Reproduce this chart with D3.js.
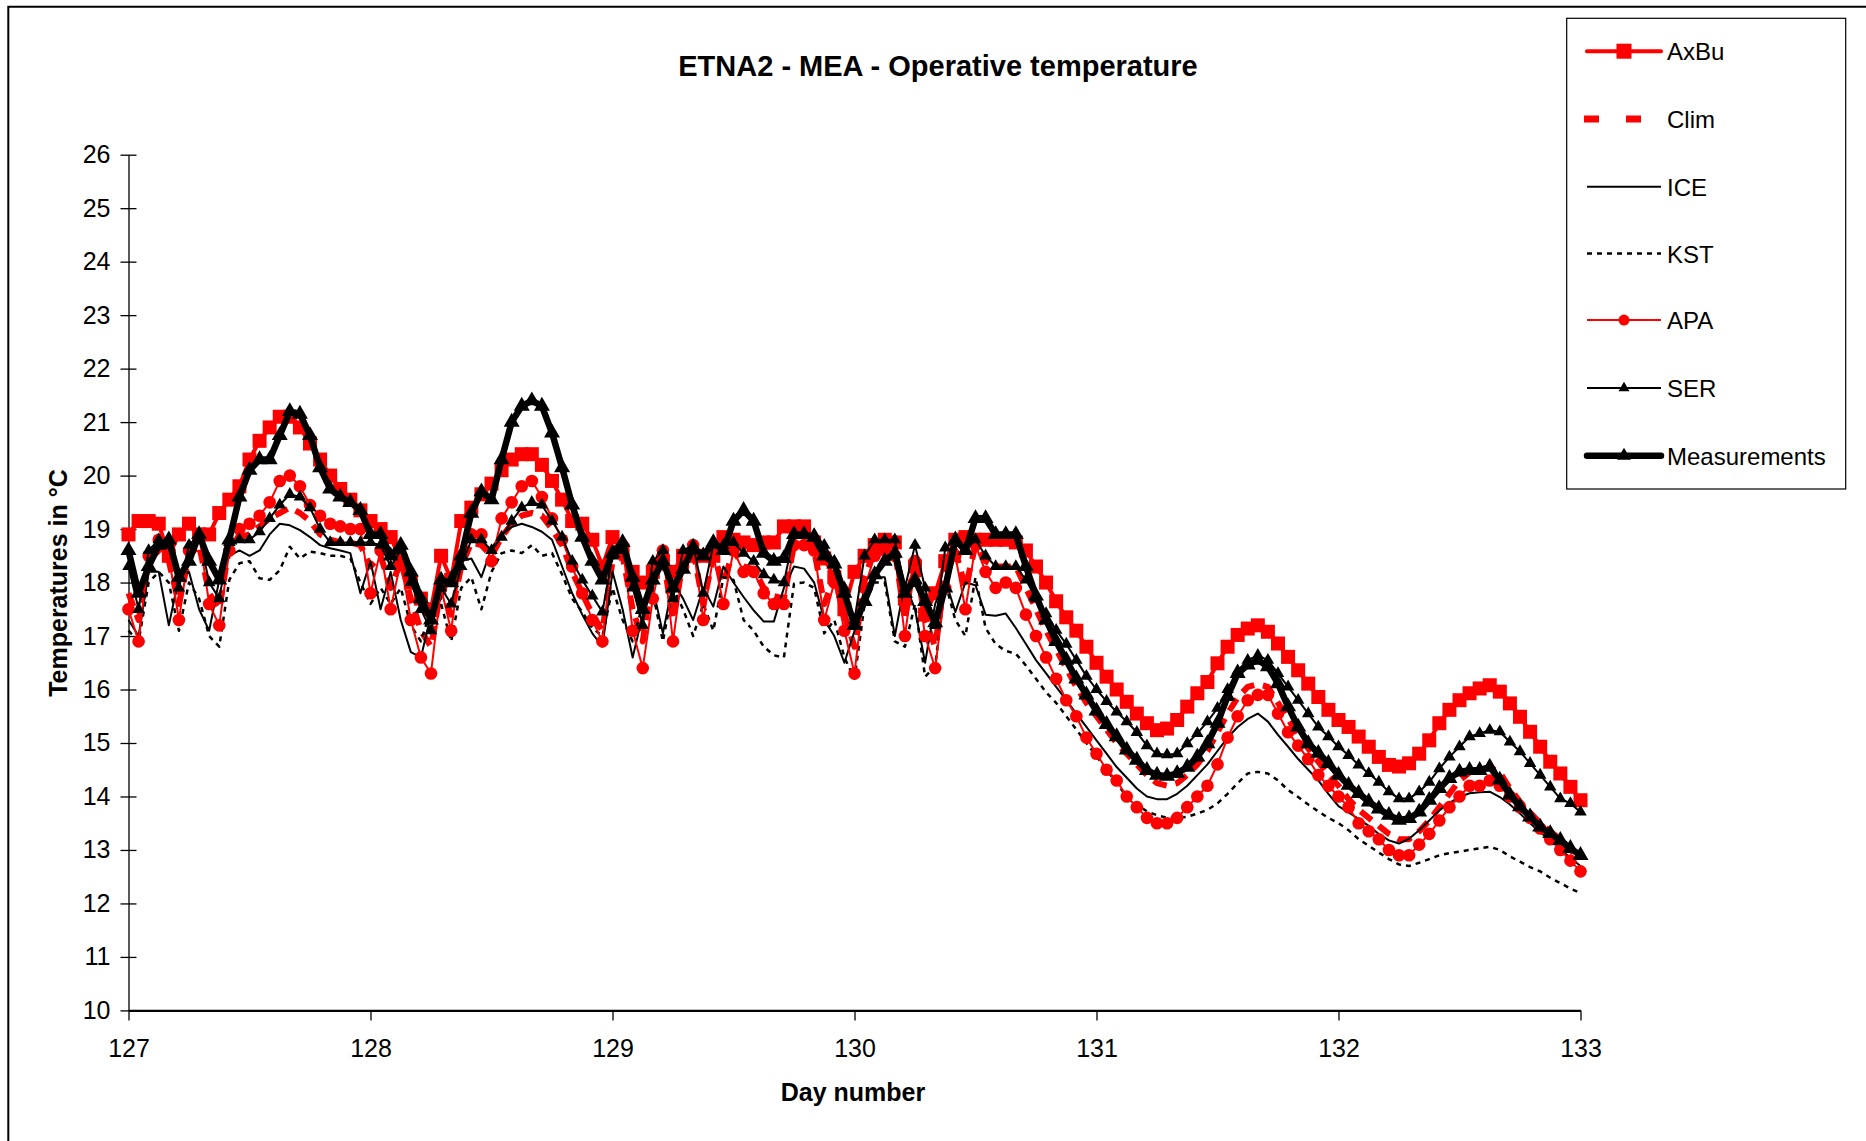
<!DOCTYPE html>
<html>
<head>
<meta charset="utf-8">
<script src="https://cdn.jsdelivr.net/npm/d3@7"></script>
<style>
  html, body { margin: 0; padding: 0; background: #fff; }
  svg { display: block; }
  text { font-family: "Liberation Sans", Arial, sans-serif; fill: #000; }
</style>
</head>
<body>
<svg id="chart" width="1866" height="1141"></svg>
<script>
// ---- data (hourly values, day 127.0 to 133.0) ----
const startDay = 127;
const stepsPerDay = 24;
const xTickValues = [127, 128, 129, 130, 131, 132, 133];
const yTickValues = [10, 11, 12, 13, 14, 15, 16, 17, 18, 19, 20, 21, 22, 23, 24, 25, 26];

const axbu = [
  18.9, 19.15, 19.15, 19.1, 18.5, 18.9, 19.1, 18.9, 18.9, 19.3, 19.55, 19.8, 20.3, 20.65, 20.9, 21.1, 21.1, 20.9, 20.6, 20.3, 20.0, 19.75, 19.55, 19.35, 19.15,
  19.0, 18.85, 18.4, 18.0, 17.7, 17.5, 18.5, 18.05, 19.15, 19.4, 19.65, 19.85, 20.1, 20.3, 20.4, 20.4, 20.2, 19.9, 19.55, 19.15, 19.1, 18.8, 18.3, 18.85,
  18.6, 18.2, 18.0, 18.2, 18.4, 18.2, 18.5, 18.5, 18.5, 18.5, 18.85, 18.8, 18.75, 18.7, 18.75, 18.75, 19.05, 19.05, 19.05, 18.75, 18.45, 18.1, 17.5, 18.2,
  18.5, 18.7, 18.8, 18.75, 17.7, 18.3, 17.4, 17.8, 18.4, 18.8, 18.85, 18.8, 18.8, 18.8, 18.8, 18.75, 18.6, 18.3, 18.0, 17.65, 17.35, 17.1, 16.8, 16.5,
  16.24, 16.0, 15.77, 15.55, 15.37, 15.24, 15.27, 15.43, 15.68, 15.93, 16.14, 16.49, 16.8, 17.02, 17.14, 17.2, 17.08, 16.86, 16.61, 16.36, 16.11, 15.86, 15.62, 15.43,
  15.3, 15.12, 14.93, 14.74, 14.59, 14.56, 14.62, 14.8, 15.05, 15.37, 15.62, 15.8, 15.93, 16.02, 16.08, 15.96, 15.74, 15.49, 15.21, 14.93, 14.65, 14.43, 14.18, 13.93
];

const clim = [
  17.8, 17.3, 18.4, 18.6, 18.4, 17.6, 18.5, 18.7, 17.8, 17.5, 18.7, 18.85, 18.9, 19.05, 19.2, 19.3, 19.4, 19.3, 19.15, 18.9, 18.8, 18.75, 18.75, 18.7, 18.3,
  18.5, 17.9, 18.4, 17.7, 17.1, 16.8, 17.9, 17.4, 18.3, 18.75, 18.7, 18.5, 18.85, 19.1, 19.25, 19.3, 19.25, 19.0, 18.7, 18.2, 17.8, 17.4, 17.1, 18.4,
  18.5, 17.5, 16.9, 18.2, 18.5, 17.3, 18.4, 18.6, 17.6, 18.5, 18.0, 18.6, 18.3, 18.25, 17.9, 17.75, 17.7, 18.7, 18.7, 18.6, 17.6, 18.1, 17.4, 16.8,
  18.1, 18.6, 18.7, 18.6, 17.3, 18.5, 17.3, 16.8, 18.2, 18.6, 17.9, 18.7, 18.4, 18.3, 18.3, 18.3, 17.9, 17.5, 17.1, 16.75, 16.4, 16.05, 15.75, 15.5,
  15.25, 15.0, 14.8, 14.6, 14.4, 14.25, 14.2, 14.25, 14.4, 14.6, 14.85, 15.2, 15.55, 15.85, 16.05, 16.1, 16.05, 15.75, 15.45, 15.15, 14.9, 14.65, 14.4, 14.2,
  13.95, 13.75, 13.6, 13.45, 13.3, 13.2, 13.2, 13.35, 13.55, 13.8, 14.05, 14.3, 14.45, 14.5, 14.55, 14.45, 14.15, 13.9, 13.7, 13.5, 13.35, 13.2, 13.0, 12.85
];

const ice = [
  17.3, 17.0, 18.2, 18.2, 17.2, 18.1, 18.2, 17.5, 17.1, 18.05, 18.5, 18.6, 18.5, 18.6, 18.9, 19.1, 19.07, 18.98, 18.85, 18.7, 18.64, 18.6, 18.55, 17.8, 18.4,
  17.5, 18.2, 17.3, 16.7, 16.6, 17.4, 17.7, 18.2, 18.4, 18.45, 18.1, 18.65, 18.9, 19.04, 19.1, 19.04, 18.95, 18.8, 18.3, 17.8, 17.4, 17.05, 16.8, 18.2,
  17.5, 16.6, 17.4, 17.9, 17.05, 18.0, 17.7, 17.3, 17.9, 17.55, 18.3, 18.0, 17.73, 17.48, 17.27, 17.27, 17.9, 18.3, 18.26, 18.0, 17.3, 17.0, 16.5, 17.1,
  17.9, 18.1, 18.1, 17.0, 18.0, 17.5, 16.5, 17.6, 18.05, 17.45, 18.0, 17.95, 17.4, 17.38, 17.42, 17.15, 16.85, 16.55, 16.3, 16.05, 15.8, 15.55, 15.3, 15.05,
  14.8, 14.55, 14.35, 14.15, 14.0, 13.95, 13.95, 14.05, 14.2, 14.4, 14.6, 14.85, 15.1, 15.3, 15.45, 15.55, 15.4, 15.15, 14.93, 14.7, 14.5, 14.3, 14.05, 13.82,
  13.7, 13.58, 13.45, 13.3, 13.18, 13.12, 13.21, 13.37, 13.55, 13.74, 13.88, 13.99, 14.06, 14.08, 14.09, 13.99, 13.85, 13.68, 13.5, 13.33, 13.18, 13.02, 12.85, 12.7
];

const kst = [
  17.1, 16.9, 18.0, 18.2, 18.0, 17.1, 18.0, 17.7, 17.0, 16.8, 18.05, 18.36, 18.4, 18.08, 18.05, 18.23, 18.67, 18.45, 18.58, 18.55, 18.5, 18.5, 18.45, 18.0, 17.6,
  17.9, 17.6, 17.9, 17.2, 16.9, 17.5, 17.6, 16.9, 17.9, 18.1, 17.5, 18.2, 18.55, 18.6, 18.55, 18.7, 18.5, 18.55, 18.15, 17.7, 17.45, 17.15, 17.0, 17.9,
  17.3, 16.9, 17.6, 17.8, 16.9, 17.9, 17.5, 17.0, 17.6, 17.1, 18.1, 18.05, 17.3, 17.1, 16.8, 16.64, 16.6, 17.98, 18.0, 17.9, 17.05, 17.3, 16.6, 16.2,
  17.6, 18.0, 18.0, 16.9, 16.8, 17.6, 16.24, 16.43, 18.0, 17.3, 17.0, 18.1, 17.15, 16.85, 16.72, 16.67, 16.45, 16.2, 15.95, 15.75, 15.5, 15.25, 15.0, 14.75,
  14.5, 14.25, 14.0, 13.85, 13.72, 13.65, 13.6, 13.6, 13.62, 13.68, 13.75, 13.87, 14.05, 14.25, 14.43, 14.46, 14.43, 14.3, 14.12, 13.99, 13.85, 13.72, 13.6, 13.5,
  13.37, 13.2, 13.08, 12.95, 12.83, 12.73, 12.7, 12.76, 12.83, 12.9, 12.94, 12.97, 13.0, 13.03, 13.06, 13.0, 12.88, 12.78, 12.68, 12.6, 12.48, 12.38, 12.28, 12.19
];

const apa = [
  17.5, 16.9, 18.5, 18.8, 18.5, 17.3, 18.6, 18.9, 17.6, 17.2, 18.6, 19.0, 19.1, 19.25, 19.5, 19.9, 20.0, 19.8, 19.45, 19.25, 19.1, 19.05, 19.0, 19.0, 17.8,
  18.6, 17.5, 18.4, 17.3, 16.6, 16.3, 17.9, 17.1, 18.5, 18.9, 18.9, 18.4, 19.2, 19.5, 19.8, 19.9, 19.6, 19.2, 18.8, 18.3, 17.8, 17.3, 16.9, 18.6,
  18.7, 17.1, 16.4, 17.7, 18.6, 16.9, 18.3, 18.7, 17.3, 18.5, 17.6, 18.6, 18.2, 18.2, 17.8, 17.6, 17.6, 18.7, 18.7, 18.6, 17.3, 18.0, 17.1, 16.3,
  17.9, 18.5, 18.6, 18.5, 17.0, 18.4, 17.0, 16.4, 17.9, 18.5, 17.5, 18.7, 18.2, 17.9, 18.0, 17.9, 17.4, 17.0, 16.6, 16.2, 15.8, 15.5, 15.1, 14.8,
  14.5, 14.3, 14.0, 13.8, 13.6, 13.5, 13.5, 13.6, 13.8, 14.0, 14.2, 14.6, 15.1, 15.5, 15.8, 15.9, 15.9, 15.55, 15.2, 14.95, 14.7, 14.4, 14.2, 14.0,
  13.8, 13.5, 13.35, 13.2, 13.0, 12.9, 12.9, 13.1, 13.3, 13.55, 13.8, 14.0, 14.2, 14.2, 14.3, 14.2, 14.0, 13.8, 13.6, 13.4, 13.2, 13.0, 12.8, 12.6
];

const ser = [
  18.3, 17.5, 18.6, 18.8, 18.7, 17.9, 18.7, 18.9, 18.0, 17.7, 18.75, 18.8, 18.8, 18.95, 19.2, 19.45, 19.65, 19.6, 19.4, 19.0, 18.75, 18.75, 18.75, 18.75, 18.75,
  18.7, 18.3, 18.6, 18.0, 17.5, 17.1, 17.9, 17.6, 18.3, 18.8, 18.8, 18.6, 18.85, 19.15, 19.4, 19.5, 19.45, 19.15, 18.85, 18.4, 18.05, 17.75, 17.45, 18.5,
  18.6, 17.9, 17.2, 18.4, 18.6, 17.7, 18.6, 18.7, 17.8, 18.7, 18.7, 18.75, 18.55, 18.4, 18.15, 18.05, 18.0, 18.9, 18.9, 18.9, 18.7, 18.4, 17.9, 17.3,
  18.5, 18.8, 18.8, 18.8, 17.9, 18.7, 17.9, 17.2, 18.65, 18.8, 18.6, 18.8, 18.5, 18.3, 18.3, 18.3, 18.05, 17.7, 17.42, 17.11, 16.85, 16.55, 16.25, 16.0,
  15.78, 15.58, 15.4, 15.2, 14.95, 14.8, 14.78, 14.8, 14.99, 15.18, 15.4, 15.65, 16.0, 16.35, 16.55, 16.64, 16.55, 16.3, 16.05, 15.8, 15.55, 15.3, 15.12, 14.93,
  14.77, 14.59, 14.43, 14.27, 14.09, 13.96, 13.96, 14.09, 14.27, 14.52, 14.74, 14.93, 15.12, 15.18, 15.24, 15.21, 15.02, 14.84, 14.62, 14.4, 14.18, 13.96, 13.87, 13.71
];

const measurements = [
  18.6, 17.8, 18.3, 18.7, 18.8, 18.1, 18.4, 18.9, 18.4, 18.05, 18.8, 19.6, 20.1, 20.3, 20.3, 20.75, 21.2, 21.15, 20.75, 20.15, 19.75, 19.6, 19.5, 19.35, 18.9,
  18.9, 18.5, 18.7, 18.2, 17.7, 17.3, 18.05, 18.0, 18.5, 19.3, 19.7, 19.55, 20.3, 21.0, 21.3, 21.4, 21.3, 20.8, 20.15, 19.45, 18.85, 18.4, 18.05, 18.55,
  18.75, 18.1, 17.5, 18.05, 18.4, 17.9, 18.25, 18.65, 18.5, 18.75, 18.6, 19.15, 19.35, 19.15, 18.55, 18.4, 18.45, 18.9, 18.9, 18.85, 18.5, 18.35, 17.8, 17.2,
  17.65, 18.15, 18.4, 18.55, 17.8, 18.05, 17.65, 17.25, 17.9, 18.8, 18.6, 19.2, 19.2, 18.9, 18.9, 18.9, 18.3, 17.75, 17.3, 16.9, 16.55, 16.2, 15.9, 15.6,
  15.35, 15.12, 14.87, 14.68, 14.49, 14.4, 14.38, 14.43, 14.55, 14.74, 14.99, 15.37, 15.87, 16.3, 16.46, 16.55, 16.43, 16.11, 15.68, 15.3, 14.99, 14.81, 14.62, 14.4,
  14.21, 14.06, 13.9, 13.77, 13.65, 13.56, 13.59, 13.71, 13.93, 14.15, 14.34, 14.46, 14.49, 14.49, 14.55, 14.31, 14.03, 13.81, 13.62, 13.43, 13.31, 13.18, 13.03, 12.9
];

const seriesNames = ["AxBu", "Clim", "ICE", "KST", "APA", "SER", "Measurements"];

// ---- styles ----
const RED = "#ff0000", BLACK = "#000000";
const series = [
  { name: "AxBu", data: axbu, color: RED, width: 4, dash: null, marker: "square", msize: 14 },
  { name: "Clim", data: clim, color: RED, width: 6, dash: "14,9", marker: null },
  { name: "ICE", data: ice, color: BLACK, width: 2, dash: null, marker: null },
  { name: "KST", data: kst, color: BLACK, width: 2.5, dash: "5,5", marker: null },
  { name: "APA", data: apa, color: RED, width: 2, dash: null, marker: "circle", msize: 6.3 },
  { name: "SER", data: ser, color: BLACK, width: 2, dash: null, marker: "triangle", msize: 12.5 },
  { name: "Measurements", data: measurements, color: BLACK, width: 6.5, dash: null, marker: "triangle", msize: 16 }
];

// ---- layout ----
const svg = d3.select("#chart");
const x = d3.scaleLinear().domain([127, 133]).range([128.5, 1580.5]);
const y = d3.scaleLinear().domain([10, 26]).range([1010.4, 154.7]);

// chart frame
svg.append("path")
  .attr("d", "M8.3,1141 V6.7 H1866")
  .attr("fill", "none").attr("stroke", "#000").attr("stroke-width", 2);

// title
svg.append("text")
  .attr("x", 938).attr("y", 76)
  .attr("text-anchor", "middle")
  .style("font-weight", "bold").style("font-size", "29px")
  .text("ETNA2 - MEA - Operative temperature");

// y axis
const yAxis = svg.append("g")
  .attr("transform", `translate(${x(127)},0)`)
  .call(d3.axisLeft(y).tickValues(yTickValues).tickFormat(d3.format("d"))
    .tickSizeInner(8).tickSizeOuter(0).tickPadding(10));
yAxis.selectAll(".tick line").attr("x1", 8).attr("x2", -8).attr("stroke-width", 1.3);
yAxis.select(".domain").attr("stroke-width", 1.3);
yAxis.selectAll("text").style("font-size", "25px").attr("font-family", null);

// x axis
const xAxis = svg.append("g")
  .attr("transform", `translate(0,${y(10)})`)
  .call(d3.axisBottom(x).tickValues(xTickValues).tickFormat(d3.format("d"))
    .tickSizeInner(10).tickSizeOuter(0).tickPadding(19));
xAxis.selectAll(".tick line").attr("stroke-width", 1.3);
xAxis.select(".domain").attr("stroke-width", 2.2);
xAxis.selectAll("text").style("font-size", "25px").attr("font-family", null);

// axis titles
svg.append("text")
  .attr("x", 853).attr("y", 1100.5)
  .attr("text-anchor", "middle")
  .style("font-weight", "bold").style("font-size", "25px")
  .text("Day number");
svg.append("text")
  .attr("transform", "translate(67,583) rotate(-90)")
  .attr("text-anchor", "middle")
  .style("font-weight", "bold").style("font-size", "25px")
  .text("Temperatures in °C");

// ---- series ----
const xOf = (d, i) => x(startDay + i / stepsPerDay);
const line = d3.line().x(xOf).y(d => y(d));

function drawMarker(g, type, size, color, cx, cy) {
  if (type === "square") {
    g.append("rect").attr("x", cx - size / 2).attr("y", cy - size / 2)
      .attr("width", size).attr("height", size).attr("fill", color);
  } else if (type === "circle") {
    g.append("circle").attr("cx", cx).attr("cy", cy).attr("r", size).attr("fill", color);
  } else if (type === "triangle") {
    const area = Math.sqrt(3) / 4 * size * size;
    g.append("path").attr("d", d3.symbol().type(d3.symbolTriangle).size(area)())
      .attr("transform", `translate(${cx},${cy})`).attr("fill", color);
  }
}

const plot = svg.append("g");
series.forEach(s => {
  const g = plot.append("g");
  g.append("path")
    .datum(s.data)
    .attr("d", line)
    .attr("fill", "none")
    .attr("stroke", s.color)
    .attr("stroke-width", s.width)
    .attr("stroke-linejoin", "round")
    .attr("stroke-dasharray", s.dash);
  if (s.marker) {
    s.data.forEach((v, i) => drawMarker(g, s.marker, s.msize, s.color, xOf(v, i), y(v)));
  }
});

// ---- legend ----
const legend = svg.append("g");
legend.append("rect")
  .attr("x", 1566.7).attr("y", 18.3).attr("width", 279).attr("height", 470.7)
  .attr("fill", "#fff").attr("stroke", "#000").attr("stroke-width", 1.2);
const legendY = [51.2, 119, 186.8, 253.5, 320.1, 388, 455.8];
const legendStyle = {
  AxBu: { width: 4, dash: null, cap: "round", marker: "square", msize: 15 },
  Clim: { width: 7, dash: "15,27", cap: "butt", marker: null, x1: 1584, x2: 1641 },
  ICE: { width: 2, dash: null, cap: "butt", marker: null },
  KST: { width: 2.5, dash: "5,5", cap: "butt", marker: null },
  APA: { width: 2, dash: null, cap: "butt", marker: "circle", msize: 5.5 },
  SER: { width: 2, dash: null, cap: "butt", marker: "triangle", msize: 11 },
  Measurements: { width: 6.5, dash: null, cap: "round", marker: "triangle", msize: 14 }
};
series.forEach((s, k) => {
  const st = legendStyle[s.name];
  const ly = legendY[k];
  const x1 = st.x1 || 1587, x2 = st.x2 || 1661;
  legend.append("line")
    .attr("x1", x1).attr("x2", x2).attr("y1", ly).attr("y2", ly)
    .attr("stroke", s.color).attr("stroke-width", st.width)
    .attr("stroke-linecap", st.cap).attr("stroke-dasharray", st.dash);
  if (st.marker) drawMarker(legend, st.marker, st.msize, s.color, 1624, ly);
  legend.append("text")
    .attr("x", 1667).attr("y", ly + 9)
    .style("font-size", "24px")
    .text(seriesNames[k]);
});
</script>
</body>
</html>
